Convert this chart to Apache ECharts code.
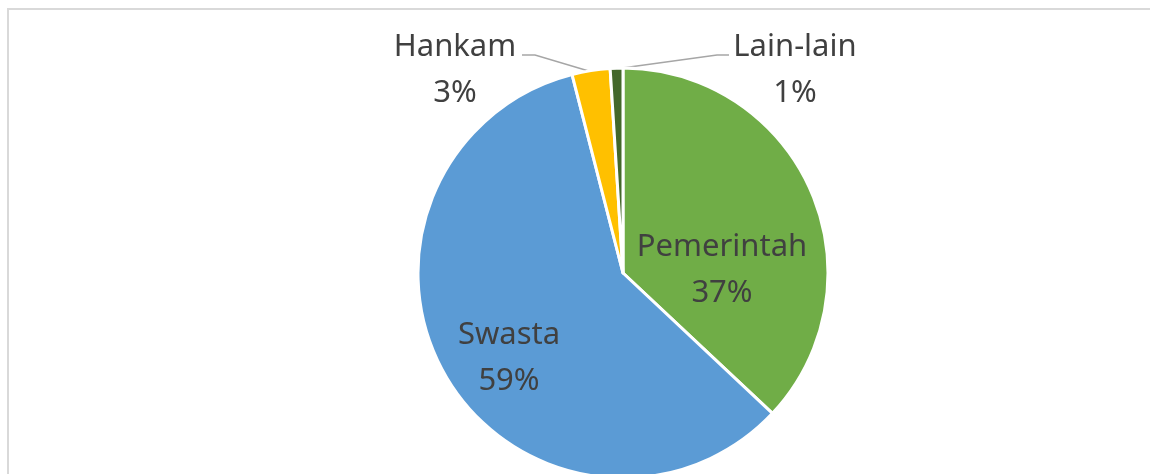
<!DOCTYPE html>
<html>
<head>
<meta charset="utf-8">
<script src="https://cdn.jsdelivr.net/npm/echarts@6/dist/echarts.min.js"></script>
<style>
  html, body { margin: 0; padding: 0; background: #fff; }
  #main { width: 1150px; height: 474px; }
</style>
</head>
<body>
<div id="main"></div>
<script>
// sectors, clockwise from 12 o'clock
var sectors = ['Pemerintah', 'Swasta', 'Hankam', 'Lain-lain'];
var shares = [37, 59, 3, 1];
var colours = ['#70AD47', '#5B9BD5', '#FFC000', '#43682B'];

// where each label sits (centre of the text block)
var labelSpots = [[722, 270], [509, 358], [455, 70], [795, 70]];
var leaderLines = [null, null,
  [[592, 72], [535, 55], [522, 55]],
  [[615, 69], [717, 55], [729, 55]]];

var chart = echarts.init(document.getElementById('main'));

var data = sectors.map(function (name, i) {
  var outside = i >= 2;
  return {
    name: name,
    value: shares[i],
    itemStyle: { color: colours[i] },
    label: { position: outside ? 'outside' : 'inside' },
    labelLine: { show: outside }
  };
});

chart.setOption({
  animation: false,
  graphic: [{
    type: 'rect',
    shape: { x: 8, y: 9, width: 1200, height: 500 },
    style: { fill: 'none', stroke: '#D9D9D9', lineWidth: 2 },
    silent: true
  }],
  series: [{
    type: 'pie',
    center: [623, 273],
    radius: 205,
    startAngle: 90,
    clockwise: true,
    avoidLabelOverlap: false,
    itemStyle: { borderColor: '#fff', borderWidth: 3 },
    label: {
      show: true,
      formatter: '{b}\n{d}%',
      color: '#404040',
      fontFamily: 'Noto Sans',
      fontSize: 31,
      lineHeight: 46,
      align: 'center'
    },
    labelLine: {
      lineStyle: { color: '#A6A6A6', width: 1.5 }
    },
    labelLayout: function (p) {
      var s = labelSpots[p.dataIndex];
      var out = { x: s[0], y: s[1], align: 'center', verticalAlign: 'middle' };
      if (leaderLines[p.dataIndex]) out.labelLinePoints = leaderLines[p.dataIndex];
      return out;
    },
    data: data
  }]
});
</script>
</body>
</html>
